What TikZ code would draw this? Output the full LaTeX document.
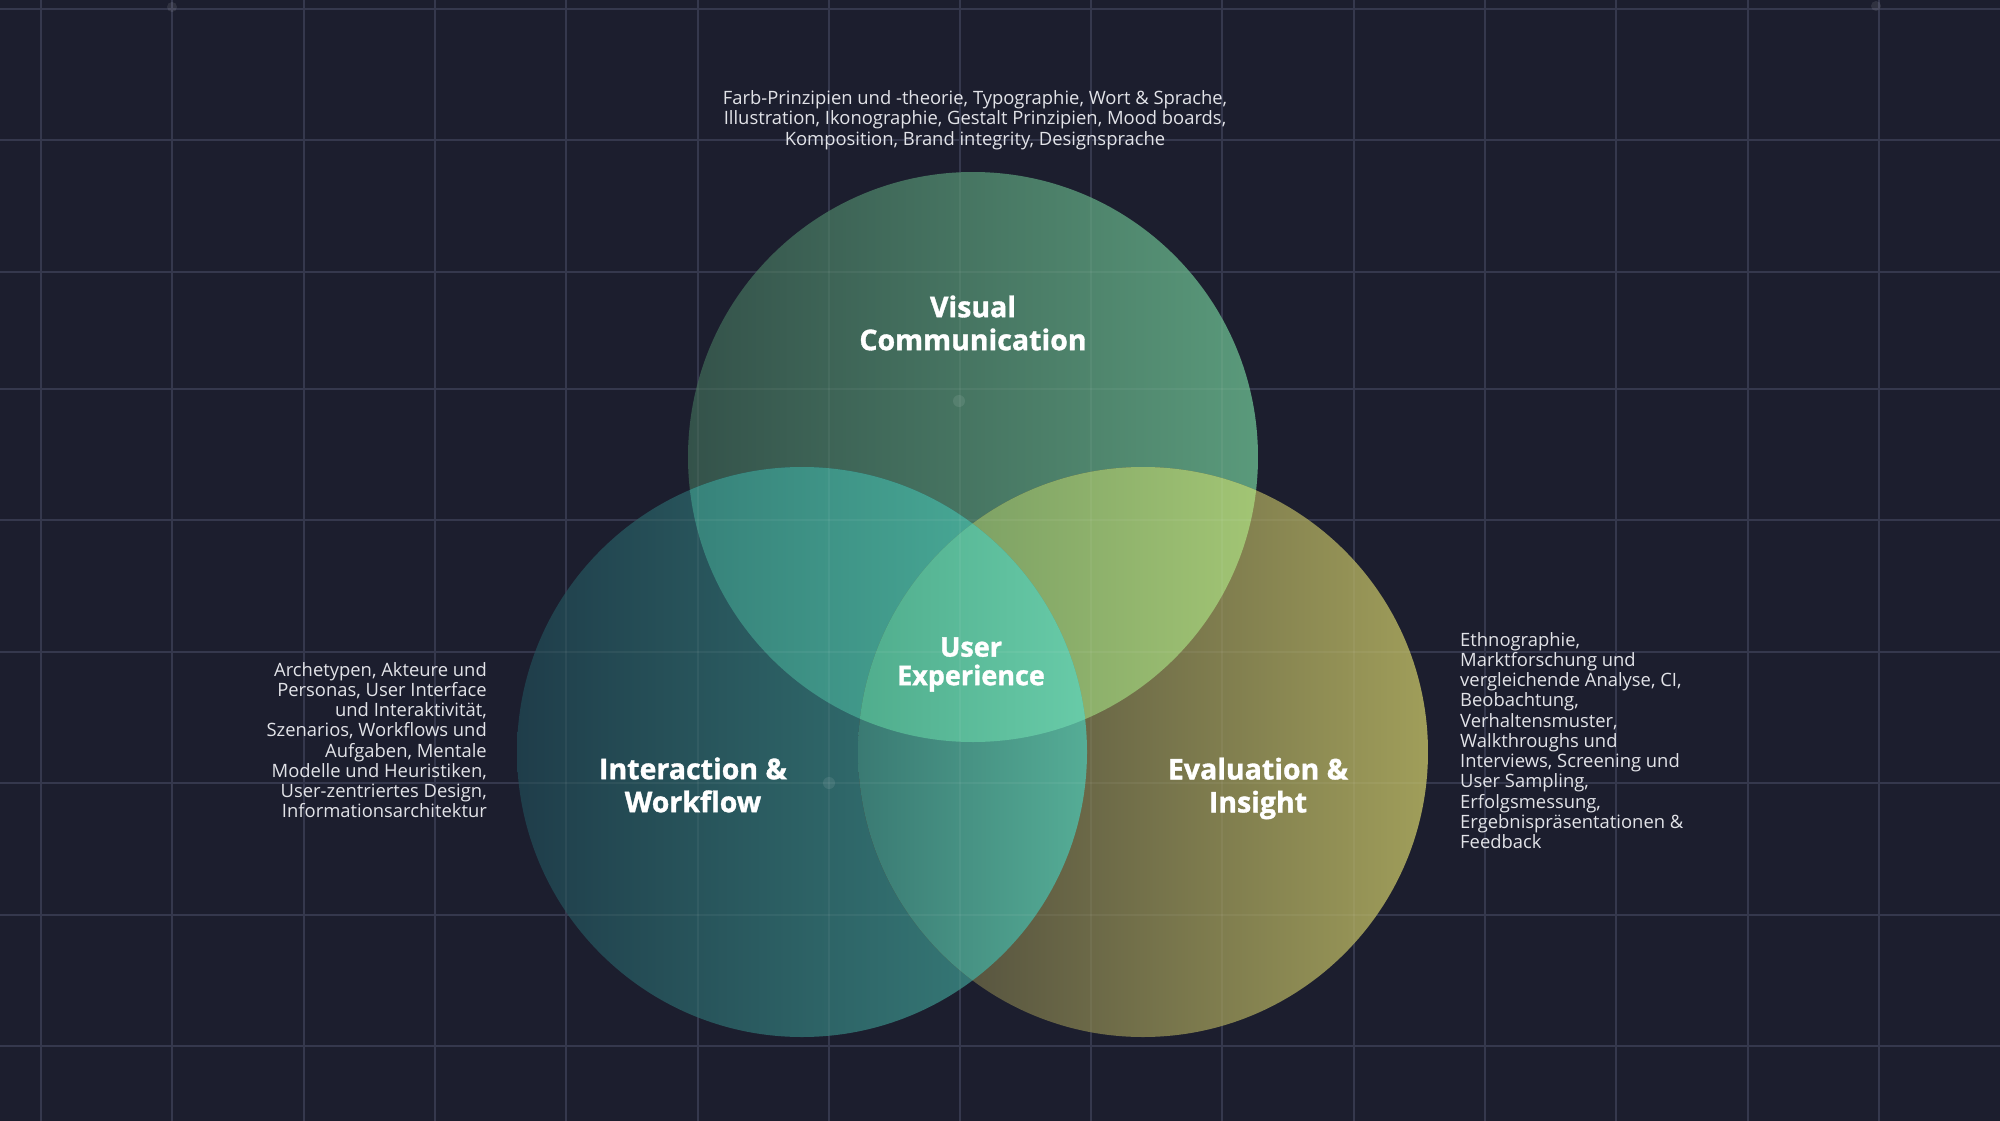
\documentclass[tikz,border=0pt]{standalone}
\usepackage{fontspec}
\setmainfont{Open Sans}
\newfontfamily\titlefont[BoldFeatures={FakeBold=1.2}]{Open Sans}
\definecolor{bg}{HTML}{1C1E2E}
\definecolor{gridc}{HTML}{35384D}
\definecolor{txt}{HTML}{E2E3E8}
\definecolor{topL}{HTML}{34524A}
\definecolor{topR}{HTML}{5A9A7B}
\definecolor{lftL}{HTML}{1F3D4A}
\definecolor{lftR}{HTML}{3A857F}
\definecolor{rgtL}{HTML}{47443A}
\definecolor{rgtR}{HTML}{A09E5A}
\definecolor{tlL}{HTML}{37827A}
\definecolor{tlR}{HTML}{4DB59E}
\definecolor{trL}{HTML}{70945F}
\definecolor{trR}{HTML}{A2C574}
\definecolor{btL}{HTML}{3A7A73}
\definecolor{btR}{HTML}{55AD96}
\definecolor{cL}{HTML}{50AD8D}
\definecolor{cR}{HTML}{68CBA8}
\begin{document}
\begin{tikzpicture}[x=1pt,y=-1pt,
  gridline/.style={draw=gridc, line width=2pt},
  gridover/.style={draw=white, draw opacity=0.05, line width=2pt},
  title/.style={font=\titlefont\bfseries\fontsize{28.5}{33}\selectfont, text=white, align=center, inner sep=0pt},
  body/.style={font=\fontsize{18.4}{20.25}\selectfont, text=txt, inner sep=0pt},
  gdot/.style={fill=white, fill opacity=0.09},
]
\useasboundingbox (0,0) rectangle (2000,1121);
\fill[bg] (0,0) rectangle (2000,1121);
% grid
\foreach \gx in {41,172,304,435,566,698,829,960,1091,1222,1354,1485,1616,1748,1879}
  \draw[gridline] (\gx,0) -- (\gx,1121);
\foreach \gy in {9,140,272,389,520,652,783,915,1046}
  \draw[gridline] (0,\gy) -- (2000,\gy);
\fill[gdot] (172,7) circle[radius=5pt];
\fill[gdot] (1876,6) circle[radius=5pt];
% circles
\coordinate (ctop) at (973,457);
\coordinate (cleft) at (802,752);
\coordinate (cright) at (1143,752);
\shade[left color=topL, right color=topR] (ctop) circle[radius=285pt];
\shade[left color=lftL, right color=lftR] (cleft) circle[radius=285pt];
\shade[left color=rgtL, right color=rgtR] (cright) circle[radius=285pt];
\begin{scope}
  \clip (ctop) circle[radius=285pt];
  \clip (cleft) circle[radius=285pt];
  \shade[left color=tlL, right color=tlR] (688,460) rectangle (1087,745);
\end{scope}
\begin{scope}
  \clip (ctop) circle[radius=285pt];
  \clip (cright) circle[radius=285pt];
  \shade[left color=trL, right color=trR] (858,460) rectangle (1258,745);
\end{scope}
\begin{scope}
  \clip (cleft) circle[radius=285pt];
  \clip (cright) circle[radius=285pt];
  \shade[left color=btL, right color=btR] (858,460) rectangle (1087,1040);
\end{scope}
\begin{scope}
  \clip (ctop) circle[radius=285pt];
  \clip (cleft) circle[radius=285pt];
  \clip (cright) circle[radius=285pt];
  \shade[left color=cL, right color=cR] (858,460) rectangle (1087,745);
\end{scope}
% faint grid over circles
\begin{scope}
  \clip (ctop) circle[radius=285pt] (cleft) circle[radius=285pt] (cright) circle[radius=285pt];
  \foreach \gx in {566,698,829,960,1091,1222,1354}
    \draw[gridover] (\gx,160) -- (\gx,1045);
  \foreach \gy in {272,389,520,652,783,915}
    \draw[gridover] (510,\gy) -- (1435,\gy);
\end{scope}
\fill[gdot] (959,401) circle[radius=6pt];
\fill[gdot] (829,783) circle[radius=6pt];
% labels
\node[title] (vis) at (973,323) {Visual\\Communication};
\node[title, font=\titlefont\bfseries\fontsize{27}{28.5}\selectfont] (ux) at (971,664.5) {User\\Experience};
\node[title] (iw) at (693,785) {Interaction \&\\Workflow};
\node[title] (ei) at (1258,788.5) {Evaluation \&\\Insight};
% descriptions
\node[body, align=center, anchor=north] (topdesc) at (975,90.5)
  {Farb-Prinzipien und -theorie, Typographie, Wort \& Sprache,\\
   Illustration, Ikonographie, Gestalt Prinzipien, Mood boards,\\
   Komposition, Brand integrity, Designsprache};
\node[body, align=right, anchor=north east] (leftdesc) at (487,662)
  {Archetypen, Akteure und\\
   Personas, User Interface\\
   und Interaktivität,\\
   Szenarios, Workflows und\\
   Aufgaben, Mentale\\
   Modelle und Heuristiken,\\
   User-zentriertes Design,\\
   Informationsarchitektur};
\node[body, align=left, anchor=north west] (rightdesc) at (1460,632)
  {Ethnographie,\\
   Marktforschung und\\
   vergleichende Analyse, CI,\\
   Beobachtung,\\
   Verhaltensmuster,\\
   Walkthroughs und\\
   Interviews, Screening und\\
   User Sampling,\\
   Erfolgsmessung,\\
   Ergebnispräsentationen \&\\
   Feedback};
\end{tikzpicture}
\end{document}
